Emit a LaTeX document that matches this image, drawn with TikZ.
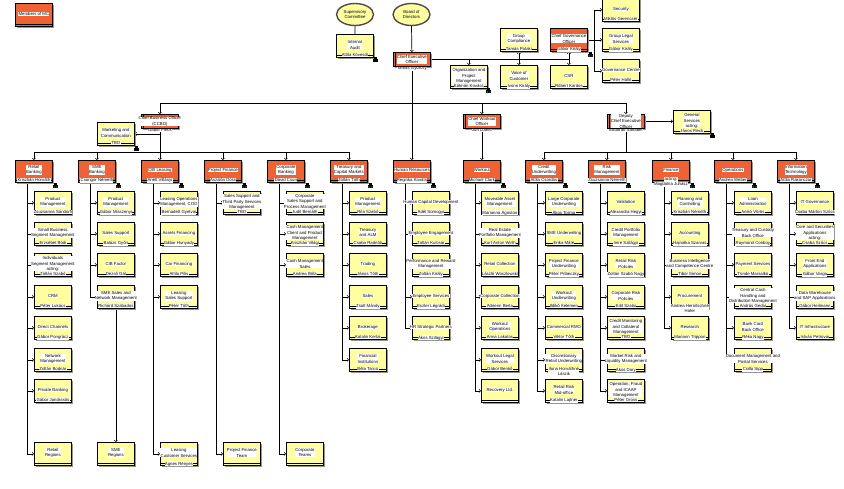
\documentclass[tikz,border=0pt]{standalone}
\usepackage{fontspec}
\setmainfont{Liberation Sans}
\usetikzlibrary{arrows.meta,shadows,shapes.geometric}
\pgfdeclarelayer{bg}
\pgfsetlayers{bg,main}
\definecolor{ylw}{RGB}{255,255,160}
\definecolor{org}{RGB}{240,98,52}
\definecolor{shd}{RGB}{150,150,150}
\definecolor{icg}{RGB}{40,200,40}
\tikzset{
 every node/.style={font=\fontsize{4.3}{5.2}\selectfont},
 boxbase/.style={draw=black, line width=0.8pt, minimum width=37pt, minimum height=23pt, anchor=north west, inner sep=0pt,
   drop shadow={shadow xshift=2pt, shadow yshift=-2pt, fill=shd, opacity=1}},
 ybox/.style={boxbase, fill=ylw},
 obox/.style={boxbase, fill=org, minimum height=22pt},
 obox2/.style={boxbase, fill=org, minimum height=14pt},
 band/.style={line width=0.6pt},
 ttl/.style={fill=white, inner sep=0.3pt, align=center},
 nm/.style={fill=white, inner sep=0.3pt, align=center},
 conn/.style={line width=0.7pt},
 arr/.style={conn, -{Straight Barb[length=1.6pt,width=3.2pt,line width=0.5pt]}},
 oval/.style={ellipse, draw=black!70, line width=1.4pt, fill=ylw, minimum width=37pt, minimum height=22pt, inner sep=0pt, align=center},
}
% yellow box: name, x, y, title, person
\newcommand\yb[5]{%
 \node[ybox] (#1) at (#2,#3) {};
 \draw[band] ([yshift=3pt]#1.south west) -- ([yshift=3pt]#1.south east);
 \node[ttl] (#1-t) at ([yshift=1pt]#1.center) {#4};
 \if\relax\detokenize{#5}\relax\else\node[nm,anchor=north] (#1-n) at ([yshift=5pt]#1.south) {#5};\fi
}
% orange division box: name, x, title, person
\newcommand\ob[4]{%
 \node[obox] (#1) at (#2,160) {};
 \draw[band] ([yshift=3pt]#1.south west) -- ([yshift=3pt]#1.south east);
 \node[ttl] (#1-t) at ([yshift=1.5pt]#1.center) {#3};
 \if\relax\detokenize{#4}\relax\else\node[nm,anchor=north] (#1-n) at ([yshift=5pt]#1.south) {#4};\fi
}
% orange officer box: name, x, y, title, person
\newcommand\oc[5]{%
 \node[obox2] (#1) at (#2,#3) {};
 \draw[band] ([xshift=2pt]#1.north west) -- ([xshift=2pt]#1.south west);
 \node[ttl] (#1-t) at (#1.center) {#4};
 \node[nm,anchor=north] (#1-n) at ([yshift=0.5pt]#1.south) {#5};
}
\newcommand\icon[3]{%
 \fill[black] (#1+1.2,#2) rectangle (#1+3.8,#2+2.4);
 \fill[black] (#1,#2+2.2) rectangle (#1+5,#2+5);
 \fill[#3] (#1+1.1,#2+4) circle (0.65pt);
 \fill[#3] (#1+3.9,#2+4) circle (0.65pt);
}
\newcommand\kid[2]{\draw[arr] ([xshift=12.5pt]#1.south west) |- (#2.west);}
\begin{document}
\begin{tikzpicture}[x=1pt,y=-1pt]
\useasboundingbox (0,0) rectangle (844,488);

% ---------- top ----------
\node[obox, minimum height=23pt] (mc) at (15,3) {};
\draw[band] ([yshift=3pt]mc.south west) -- ([yshift=3pt]mc.south east);
\node[ttl] (mc-t) at ([yshift=1pt]mc.center) {Members of MC};

\node[oval] (sup) at (355,14.5) {Supervisory\\Committee};
\node[oval] (bod) at (411.5,14.5) {Board of\\Directors};
\yb{ia}{336}{34}{Internal\\Audit}{Attila Kövesdi}
\oc{ceo}{393}{52}{Chief Executive\\Officer}{Tamás Gyurcsy}

\yb{gc}{500}{28}{Group\\Compliance}{Tamás Pataki}
\node[obox, minimum height=23pt] (cgo) at (550,28) {};
\draw[band] ([yshift=3pt]cgo.south west) -- ([yshift=3pt]cgo.south east);
\node[ttl] (cgo-t) at ([yshift=1pt]cgo.center) {Chief Governance\\Officer};
\node[nm,anchor=north] (cgo-n) at ([yshift=5pt]cgo.south) {Gábor Király};
\yb{opm}{450}{65}{Organization and\\Project\\Management}{Kálmán Kovács}
\yb{voc}{500}{65}{Voice of\\Customer}{Ivonn Király}
\yb{csr}{550}{65}{CSR}{Róbert Kardos}
\yb{sec}{602}{-2}{Security}{Miklós Gerencsér}
\yb{gl}{602}{28}{Group Legal\\Services}{Gábor Király}
\yb{govc}{602}{59}{Governance Centre}{Péter Holló}

% ---------- officers ----------
\oc{cbo}{141}{114}{Chief Business Officer\\(CCBO)}{Gábor Pleck}
\oc{cwo}{463}{114}{Chief Workout\\Officer}{Jón Lodes}
\oc{dceo}{607}{114}{Deputy\\Chief Executive\\Officer}{Eduardo Sanabel}
\yb{mk}{97}{122}{Marketing and\\Communication}{TBD}
\yb{gs}{673}{110}{General\\Services\\acting:}{János Fleck}

% ---------- divisions ----------
\ob{retail}{15}{Retail\\Banking}{Krisztián Horváth}
\ob{sme}{78}{SME\\Banking}{Csongor Németh}
\ob{cib}{141}{CIB Leasing}{Anett Villányi}
\ob{pf}{204}{Project Finance}{Aszalós Dóra}
\ob{corp}{267}{Corporate\\Banking}{Dávid Csuri}
\ob{tcm}{330}{Treasury and\\Capital Markets}{Zoltán Tóth}
\ob{hr}{393}{Human Resources}{Reginka Kováts}
\ob{wo}{463}{Workout}{Michael Clark}
\ob{cu}{525}{Credit\\Underwriting}{Attila Csordás}
\ob{rm}{588}{Risk\\Management}{Zsuzsanna Németh}
\ob{fin}{652}{Finance}{}
\node[nm] (fin-a) at ([yshift=3.5pt]fin.south) {acting:};
\node[nm] (fin-n) at ([yshift=-1.5pt]fin.south) {Magdolna Juhász};
\ob{ops}{714}{Operations}{Andrea Weber}
\ob{it}{777}{Information\\Technology}{Attila Rakonczai}

% ---------- units ----------
\yb{r1}{34}{191}{Product\\Management}{Zsuzsanna Sándorfi}
\yb{r2}{34}{222}{Small Business\\Segment Management}{Erzsébet Bódi}
\yb{r3}{34}{253}{Individuals\\Segment Management\\acting:}{Zoltán Szabó}
\yb{r4}{34}{285}{CRM}{Péter Lukács}
\yb{r5}{34}{316}{Direct Channels}{Gábor Pongrácz}
\yb{r6}{34}{348}{Network\\Management}{Zoltán Bodnár}
\yb{r7}{34}{379}{Private Banking}{Gábor Jandrasits}
\yb{r8}{34}{442}{Retail\\Regions}{}

\yb{s1}{97}{191}{Product\\Management}{Gábor Misszenyi}
\yb{s2}{97}{222}{Sales Support}{Balázs Győri}
\yb{s3}{97}{253}{CIB Factor}{Dezső Gál}
\yb{s4}{97}{285}{SME Sales and\\Network Management}{Richárd Szabados}
\yb{s5}{97}{442}{SME\\Regions}{}

\yb{c1}{160}{191}{Leasing Operations\\Management, COO}{Bernadett Gyetvai}
\yb{c2}{160}{222}{Assets Financing}{Gábor Hunyady}
\yb{c3}{160}{253}{Car Financing}{Attila Pilis}
\yb{c4}{160}{285}{Leasing\\Sales Support}{Péter Tóth}
\yb{c5}{160}{442}{Leasing\\Customer Services}{Ágnes Rényes}

\yb{p1}{223}{191}{Sales Support and\\Third Party Services\\Management}{TBD}
\yb{p2}{223}{442}{Project Finance\\Team}{}

\yb{k1}{286}{191}{Corporate\\Sales Support and\\Process Management}{Judit Bernáth}
\yb{k2}{286}{222}{Cash Management\\Client and Product\\Management}{Krisztián Világi}
\yb{k3}{286}{253}{Cash Management\\Sales}{Andrea Bóta}
\yb{k4}{286}{442}{Corporate\\Teams}{}

\yb{t1}{349}{191}{Product\\Management}{Rita Szabó}
\yb{t2}{349}{222}{Treasury\\and ALM}{Csaba Radnóti}
\yb{t3}{349}{253}{Trading}{János Tóth}
\yb{t4}{349}{285}{Sales}{Zsolt Mándy}
\yb{t5}{349}{316}{Brokerage}{Katalin Kertai}
\yb{t6}{349}{348}{Financial\\Institutions}{Béla Tarcsi}

\yb{h1}{412}{191}{Human Capital Development}{Adél Somogyi}
\yb{h2}{412}{222}{Employee Engagement}{Zoltán Kulcsár}
\yb{h3}{412}{253}{Performance and Reward\\Management}{Zoltán Király}
\yb{h4}{412}{285}{Employee Services}{Eszter Légrádi}
\yb{h5}{412}{316}{HR Strategic Partners}{Ákos Szilágyi}

\yb{w1}{481}{191}{Moveable Asset\\Management}{Marianna Ágoston}
\yb{w2}{481}{222}{Real Estate\\Portfolio Management}{Kurt Anton Wirth}
\yb{w3}{481}{253}{Retail Collection}{László Woszlowski}
\yb{w4}{481}{285}{Corporate Collection}{Adrienn Berta}
\yb{w5}{481}{316}{Workout\\Operations}{Anna Lakatos}
\yb{w6}{481}{348}{Workout Legal\\Services}{Gábor Benkő}
\yb{w7}{481}{379}{Recovery Ltd.}{}

\yb{u1}{545}{191}{Large Corporate\\Underwriting}{Ákos Torma}
\yb{u2}{545}{222}{SME Underwriting}{Erika Máté}
\yb{u3}{545}{253}{Project Finance\\Underwriting}{Péter Pribeczky}
\yb{u4}{545}{285}{Workout\\Underwriting}{Ildikó Kelemen}
\yb{u5}{545}{316}{Commercial RMO}{Viktor Tóth}
\yb{u6}{545}{348}{Discretionary\\Retail Underwriting}{Ilona Horváthné\\Lászik}
\yb{u7}{545}{379}{Retail Risk\\Mid-office}{Katalin Lajtner}

\yb{m1}{607}{191}{Validation}{Alexandra Hegyi}
\yb{m2}{607}{222}{Credit Portfolio\\Management}{Imre Szilágyi}
\yb{m3}{607}{253}{Retail Risk\\Policies}{Zoltán Szabó Nagy}
\yb{m4}{607}{285}{Corporate Risk\\Policies}{Edit Szalai}
\yb{m5}{607}{316}{Credit Monitoring\\and Collateral\\Management}{TBD}
\yb{m6}{607}{348}{Market Risk and\\Liquidity Management}{Ákos Dory}
\yb{m7}{607}{379}{Operation, Fraud\\and ICAAP\\Management}{Péter Gross}

\yb{f1}{671}{191}{Planning and\\Controlling}{Krisztián Németh}
\yb{f2}{671}{222}{Accounting}{Hajnalka Szarvas}
\yb{f3}{671}{253}{Business Intelligence\\and Competence Centre}{Tibor Simon}
\yb{f4}{671}{285}{Procurement}{Andrea Hernitschné\\Hofer}
\yb{f5}{671}{316}{Research}{Mariann Trippon}

\yb{o1}{734}{191}{Loan\\Administration}{Anikó Vörös}
\yb{o2}{734}{222}{Treasury and Custody\\Back Office}{Raymond Conboy}
\yb{o3}{734}{253}{Payment Services}{Tünde Marsalkó}
\yb{o4}{734}{285}{Central Cash\\Handling and\\Distribution Management}{András Gedai}
\yb{o5}{734}{316}{Bank Card\\Back Office}{Réka Nagy}
\yb{o6}{734}{348}{Document Management and\\Postal Services}{Csilla Sipp}

\yb{i1}{796}{191}{IT Governance}{Csaba Márton Szűcs}
\yb{i2}{796}{222}{Core and Securities\\Applications\\acting:}{Csaba Szűcs}
\yb{i3}{796}{253}{Front End\\Applications}{Gábor Varga}
\yb{i4}{796}{285}{Data Warehouse\\and SAP Applications}{Gábor Heilmann}
\yb{i5}{796}{316}{IT Infrastructure}{István Petrovai}

% ---------- icons ----------
\icon{373}{57}{black}
\icon{486}{88}{icg}
\icon{588}{52}{icg}
\icon{134}{146}{black}
\icon{710}{133}{black}
\foreach \ix in {53,116,179,242,305,368,431,501,563,626,690,752,815}{\icon{\ix}{183}{icg}}

% ---------- connectors ----------
\begin{pgfonlayer}{bg}
\coordinate (mb) at (0,103);
\coordinate (cb) at (0,152);
\coordinate (gx) at (594,0);
\draw[conn] (sup.south) -- (ia.north);
\draw[arr] (bod.south) -- (ceo.north);
\draw[arr] (ceo.south) -- (hr.north);
\draw[conn] (cbo.north |- mb) -- (dceo.north |- mb);
\draw[arr] (cbo.north |- mb) -- (cbo.north);
\draw[arr] (cwo.north |- mb) -- (cwo.north);
\draw[arr] (dceo.north |- mb) -- (dceo.north);
% CEO staff
\draw[conn] (ceo.east) -- (ceo.east -| csr.north);
\draw[arr] (ceo.east -| opm.north) -- (opm.north);
\draw[arr] (ceo.east -| voc.north) -- (voc.north);
\draw[arr] (ceo.east -| csr.north) -- (csr.north);
\draw[arr] (ceo.east -| gc.south) -- (gc.south);
\draw[arr] (ceo.east -| cgo.south) -- (cgo.south);
\draw[conn] (cgo.east) -- (cgo.east -| gx);
\draw[conn] (sec.west -| gx) -- (govc.west -| gx);
\draw[arr] (sec.west -| gx) -- (sec.west);
\draw[arr] (gl.west -| gx) -- (gl.west);
\draw[arr] (govc.west -| gx) -- (govc.west);
% CBO
\draw[conn] (cbo.south) -- (cbo.south |- cb);
\draw[arr] (cbo.south |- mk.east) -- (mk.east);
\draw[conn] (retail.north |- cb) -- (tcm.north |- cb);
\foreach \d in {retail,sme,cib,pf,corp,tcm}{\draw[arr] (\d.north |- cb) -- (\d.north);}
% CWO
\draw[arr] (cwo.south) -- (wo.north);
% DCEO
\draw[arr] (dceo.east) -- (dceo.east -| gs.west);
\draw[conn] (dceo.south) -- (dceo.south |- cb);
\draw[conn] (cu.north |- cb) -- (it.north |- cb);
\foreach \d in {cu,rm,fin,ops,it}{\draw[arr] (\d.north |- cb) -- (\d.north);}
% units
\foreach \c in {r1,r2,r3,r4,r5,r6,r7,r8}{\kid{retail}{\c}}
\foreach \c in {s1,s2,s3,s4}{\kid{sme}{\c}}
\draw[arr] (s4.south) -- (s5.north);
\foreach \c in {c1,c2,c3,c4,c5}{\kid{cib}{\c}}
\foreach \c in {p1,p2}{\kid{pf}{\c}}
\foreach \c in {k1,k2,k3,k4}{\kid{corp}{\c}}
\foreach \c in {t1,t2,t3,t4,t5,t6}{\kid{tcm}{\c}}
\foreach \c in {h1,h2,h3,h4,h5}{\kid{hr}{\c}}
\foreach \c in {w1,w2,w3,w4,w5,w6,w7}{\kid{wo}{\c}}
\foreach \c in {u1,u2,u3,u4,u5,u6,u7}{\kid{cu}{\c}}
\foreach \c in {m1,m2,m3,m4,m5,m6,m7}{\kid{rm}{\c}}
\foreach \c in {f1,f2,f3,f4,f5}{\kid{fin}{\c}}
\foreach \c in {o1,o2,o3,o4,o5,o6}{\kid{ops}{\c}}
\foreach \c in {i1,i2,i3,i4,i5}{\kid{it}{\c}}
\end{pgfonlayer}
\end{tikzpicture}
\end{document}
